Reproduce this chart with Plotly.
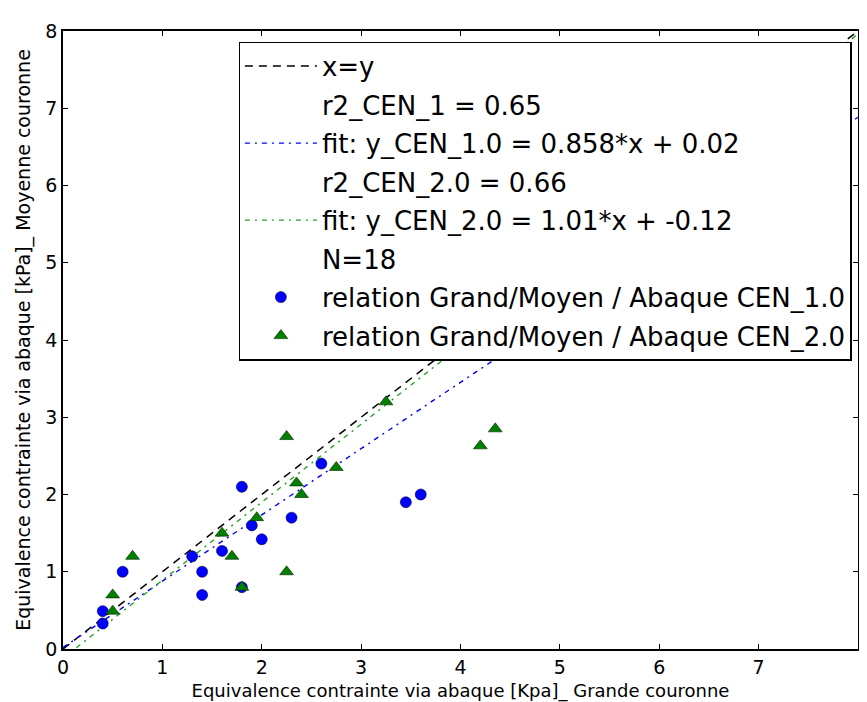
import plotly.graph_objects as go

# Data
cen1_x = [0.40, 0.40, 0.60, 1.30, 1.40, 1.40, 1.60, 1.80, 1.80, 1.90, 2.00, 2.30, 2.60, 3.45, 3.60]
cen1_y = [0.49, 0.33, 1.00, 1.20, 1.00, 0.70, 1.27, 2.10, 0.80, 1.60, 1.42, 1.70, 2.40, 1.90, 2.00]
cen2_x = [0.50, 0.50, 0.70, 1.60, 1.70, 1.80, 1.95, 2.25, 2.25, 2.35, 2.40, 2.75, 3.25, 4.20, 4.35]
cen2_y = [0.70, 0.49, 1.20, 1.50, 1.20, 0.80, 1.70, 2.75, 1.00, 2.15, 2.00, 2.35, 3.20, 2.63, 2.85]

fit1_slope, fit1_icpt = 0.858, 0.02
fit2_slope, fit2_icpt = 1.01, -0.12
line_x = [0, 8]

labels = {
    "xy": "x=y",
    "r2_1": "r2_CEN_1 = 0.65",
    "fit1": "fit: y_CEN_1.0 = 0.858*x + 0.02",
    "r2_2": "r2_CEN_2.0 = 0.66",
    "fit2": "fit: y_CEN_2.0 = 1.01*x + -0.12",
    "n": "N=18",
    "s1": "relation Grand/Moyen / Abaque CEN_1.0",
    "s2": "relation Grand/Moyen / Abaque CEN_2.0",
}

FONT = "DejaVu Sans"
fig = go.Figure()

fig.add_trace(go.Scatter(x=line_x, y=line_x, mode="lines", name=labels["xy"],
                         line=dict(color="black", dash="8px,6px", width=1.5), legendgroup="a"))
fig.add_trace(go.Scatter(x=[None], y=[None], mode="lines", name=labels["r2_1"],
                         line=dict(color="rgba(0,0,0,0)"), legendgroup="b"))
fig.add_trace(go.Scatter(x=line_x, y=[fit1_slope * v + fit1_icpt for v in line_x], mode="lines",
                         name=labels["fit1"], line=dict(color="#0000ff", dash="5px,5px,2px,5px", width=1.4),
                         legendgroup="c"))
fig.add_trace(go.Scatter(x=[None], y=[None], mode="lines", name=labels["r2_2"],
                         line=dict(color="rgba(0,0,0,0)"), legendgroup="d"))
fig.add_trace(go.Scatter(x=line_x, y=[fit2_slope * v + fit2_icpt for v in line_x], mode="lines",
                         name=labels["fit2"], line=dict(color="#22a022", dash="5px,5px,2px,5px", width=1.4),
                         legendgroup="e"))
fig.add_trace(go.Scatter(x=[None], y=[None], mode="lines", name=labels["n"],
                         line=dict(color="rgba(0,0,0,0)"), legendgroup="f"))
fig.add_trace(go.Scatter(x=cen1_x, y=cen1_y, mode="markers", name=labels["s1"],
                         marker=dict(symbol="circle", size=11, color="#0000ff",
                                     line=dict(color="#000033", width=0.6)), legendgroup="g"))
fig.add_trace(go.Scatter(x=cen2_x, y=cen2_y, mode="markers", name=labels["s2"],
                         marker=dict(symbol="triangle-up", size=12, color="#007f00",
                                     line=dict(color="#002200", width=0.6)), legendgroup="h"))

axis_common = dict(
    range=[0, 8], dtick=1, tick0=0, showgrid=False, zeroline=False,
    ticks="inside", ticklen=5, tickwidth=1, tickcolor="black",
    showline=True, linecolor="black", linewidth=1.5, mirror="ticks",
    tickfont=dict(family=FONT, size=19, color="black"),
    automargin=False,
)

fig.update_layout(
    width=859, height=702,
    margin=dict(l=63, r=1, t=31, b=53),
    paper_bgcolor="white", plot_bgcolor="white",
    font=dict(family=FONT, color="black"),
    xaxis=dict(axis_common,
               title=dict(text="Equivalence contrainte via abaque [Kpa]_ Grande couronne",
                          font=dict(family=FONT, size=18), standoff=8)),
    yaxis=dict(axis_common,
               title=dict(text="Equivalence contrainte via abaque [kPa]_ Moyenne couronne",
                          font=dict(family=FONT, size=19), standoff=10)),
    legend=dict(x=0.221, y=0.983, xanchor="left", yanchor="top",
                bgcolor="white", bordercolor="black", borderwidth=1.2,
                font=dict(family=FONT, size=26, color="black"),
                traceorder="grouped", tracegroupgap=1.7, itemwidth=72),
    showlegend=True,
)

# remove the page's default body margin and scrollbars so the figure sits at the window's corner
page_js = ("document.body.style.margin='0';"
           "document.body.style.overflow='hidden';"
           "document.documentElement.style.overflow='hidden';")

fig.write_html("out.html", post_script=page_js, config={"displayModeBar": False})
